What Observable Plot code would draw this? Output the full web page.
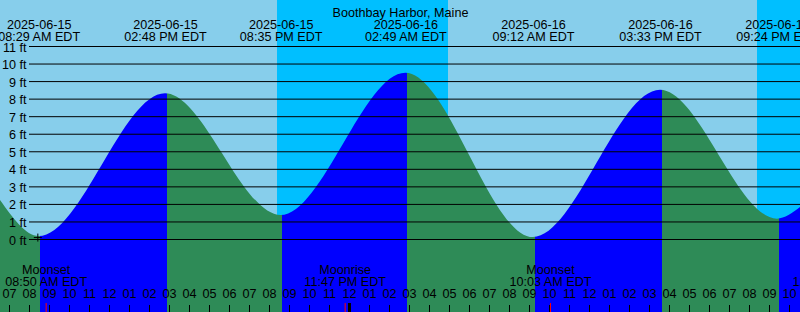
<!DOCTYPE html>
<html>
<head>
<meta charset="utf-8">
<script src="https://cdn.jsdelivr.net/npm/d3@7"></script>
<script src="https://cdn.jsdelivr.net/npm/@observablehq/plot@0.6"></script>
<style>
  html, body { margin: 0; padding: 0; background: #ffffff; }
  #chart svg { display: block; }
</style>
</head>
<body>
<div id="chart"></div>
<script>
// ---------- data (clock times are local EDT) ----------
const title = "Boothbay Harbor, Maine";
const tideTimes   = ["2025-06-15T08:29", "2025-06-15T14:48", "2025-06-15T20:35",
                     "2025-06-16T02:49", "2025-06-16T09:12", "2025-06-16T15:33", "2025-06-16T21:24"];
const tideHeights = [0.17, 8.31, 1.37, 9.48, 0.11, 8.5, 1.16];
// tide level where the curve meets the left / right edge of the chart
const edgeTimes   = ["2025-06-15T06:33", "2025-06-16T22:33"];
const edgeHeights = [2.22, 1.82];
const sunsets  = ["2025-06-15T20:24", "2025-06-16T20:24"];
const sunrises = ["2025-06-16T04:57"];
const moonTimes  = ["2025-06-15T08:50", "2025-06-15T23:47", "2025-06-16T10:03", "2025-06-17T00:12"];
const moonEvents = ["Moonset", "Moonrise", "Moonset", "Moonrise"];
const levels = [0, 1, 2, 3, 4, 5, 6, 7, 8, 9, 10, 11];
const levelUnit = "ft";
const crossTime = "2025-06-15T08:25";
const crossLevel = 0.11;

// ---------- styling ----------
const W = 800, H = 312;
const dayColor = "#87CEEB", nightColor = "#00BFFF";
const risingColor = "#0000FF", fallingColor = "#2E8B57";
const font = "'Liberation Sans', Arial, Helvetica, sans-serif";
const fs = 12.6;
const yDomain = [-4.1606, 13.6218];
const shadeShift = 1.7;

// ---------- build tables ----------
const parse = d3.utcParse("%Y-%m-%dT%H:%M");
const fmtDate = d3.utcFormat("%Y-%m-%d");
const fmtTime = d3.utcFormat("%I:%M %p EDT");
const fmtHour = d3.utcFormat("%I");

const start = parse(edgeTimes[0]), end = parse(edgeTimes[1]);
const tides = tideTimes.map((t, i) => ({t: parse(t), h: tideHeights[i]}));
const curve = [{t: start, h: edgeHeights[0]}, ...tides, {t: end, h: edgeHeights[1]}];

const rises = sunrises.map(parse);
const nights = sunsets.map(parse).map(s => ({
  x1: s, x2: rises.find(r => r > s) || end
}));

const moons = moonTimes.map((t, i) => ({t: parse(t), label: moonEvents[i]}));
const hours = d3.utcHour.range(d3.utcHour.ceil(start), new Date(+end + 1));
const midnights = d3.utcDay.range(d3.utcDay.ceil(start), end);
const cross = [{t: parse(crossTime), h: crossLevel}];

const plusSymbol = {
  draw(ctx) { ctx.moveTo(-4, 0); ctx.lineTo(4, 0); ctx.moveTo(0, -4); ctx.lineTo(0, 4); }
};

const chart = Plot.plot({
  width: W, height: H,
  margin: 0,
  x: {type: "utc", domain: [start, end], range: [0, W], axis: null},
  y: {domain: yDomain, range: [H, 0], axis: null},
  style: {background: dayColor, fontFamily: font, fontSize: fs + "px", color: "black", overflow: "hidden"},
  marks: [
    Plot.rect(nights, {x1: "x1", x2: "x2", fill: nightColor}),
    Plot.areaY(curve, {x: "t", y1: yDomain[0], y2: "h", curve: "monotone-x", fill: "url(#tideFill)"}),
    Plot.ruleY(levels, {stroke: "black", insetLeft: 29}),
    Plot.text(levels, {y: d => d, text: d => `${d} ${levelUnit}`, frameAnchor: "left",
                       dx: 26, dy: 1, textAnchor: "end", fill: "black", fontSize: fs}),
    Plot.text([title], {text: d => d, frameAnchor: "top", dy: 8, fill: "black", fontSize: fs}),
    Plot.text(tides, {x: "t", text: d => fmtDate(d.t), frameAnchor: "top", dy: 20, fill: "black", fontSize: fs}),
    Plot.text(tides, {x: "t", text: d => fmtTime(d.t), frameAnchor: "top", dy: 31.8, fill: "black", fontSize: fs}),
    Plot.text(moons, {x: "t", text: "label", frameAnchor: "bottom", dy: -38.5, fill: "black", fontSize: fs}),
    Plot.text(moons, {x: "t", text: d => fmtTime(d.t), frameAnchor: "bottom", dy: -26.2, fill: "black", fontSize: fs}),
    Plot.text(hours, {x: d => d, text: d => fmtHour(d), frameAnchor: "bottom", dy: -14.2, fill: "black", fontSize: fs}),
    Plot.ruleX(hours, {x: d => d, stroke: "black", insetTop: 305}),
    Plot.ruleX(moons, {x: "t", stroke: "red", insetTop: 303}),
    Plot.ruleX(midnights, {x: d => d, stroke: "black", strokeWidth: 3, insetTop: 303}),
    Plot.dot(cross, {x: "t", y: "h", symbol: plusSymbol, r: 4, stroke: "black", fill: "none", strokeWidth: 1})
  ]
});

// rising / falling shading of the water, boundaries taken from the x scale
const xs = chart.scale("x");
const ns = "http://www.w3.org/2000/svg";
const defs = document.createElementNS(ns, "defs");
const grad = document.createElementNS(ns, "linearGradient");
grad.setAttribute("id", "tideFill");
grad.setAttribute("gradientUnits", "userSpaceOnUse");
grad.setAttribute("x1", 0); grad.setAttribute("x2", W);
grad.setAttribute("y1", 0); grad.setAttribute("y2", 0);
for (let i = 0; i < curve.length - 1; i++) {
  const color = curve[i + 1].h > curve[i].h ? risingColor : fallingColor;
  const a = i === 0 ? 0 : xs.apply(curve[i].t) + shadeShift;
  const b = i === curve.length - 2 ? W : xs.apply(curve[i + 1].t) + shadeShift;
  for (const p of [a, b]) {
    const s = document.createElementNS(ns, "stop");
    s.setAttribute("offset", Math.max(0, Math.min(1, p / W)));
    s.setAttribute("stop-color", color);
    grad.appendChild(s);
  }
}
defs.appendChild(grad);
chart.insertBefore(defs, chart.firstChild);

document.getElementById("chart").appendChild(chart);
</script>
</body>
</html>
